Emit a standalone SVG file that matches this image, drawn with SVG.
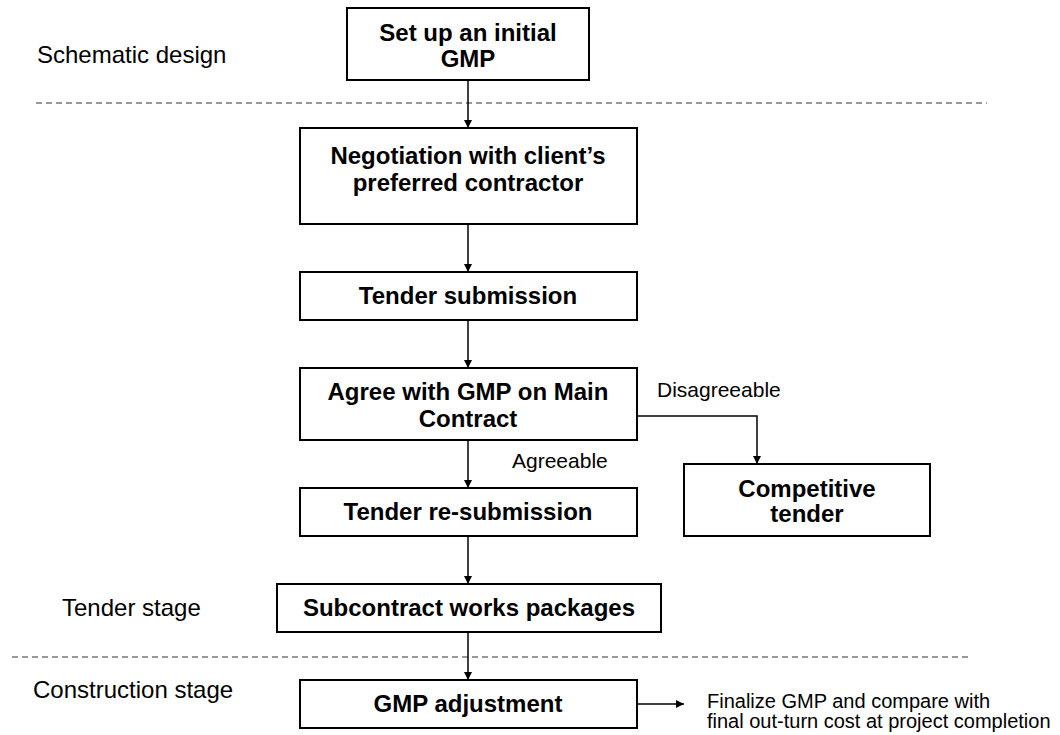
<svg xmlns="http://www.w3.org/2000/svg" width="1060" height="735" viewBox="0 0 1060 735">
  <style>
    .box { fill: #fff; stroke: #000; stroke-width: 2; }
    .lbl { font-family: "Liberation Sans", Arial, sans-serif; font-size: 24px; font-weight: bold; fill: #000; text-anchor: middle; }
    .stage { font-family: "Liberation Sans", Arial, sans-serif; font-size: 24px; fill: #000; }
    .note { font-family: "Liberation Sans", Arial, sans-serif; font-size: 21px; fill: #000; }
    .fin { font-family: "Liberation Sans", Arial, sans-serif; font-size: 20px; fill: #000; }
    .divider { stroke: #333; stroke-width: 1; stroke-dasharray: 6 4; fill: none; }
    .conn { stroke: #000; stroke-width: 1.5; fill: none; marker-end: url(#arrow); }
  </style>
  <defs>
    <marker id="arrow" viewBox="0 0 10 10" refX="10" refY="5" markerWidth="8" markerHeight="8" markerUnits="userSpaceOnUse" orient="auto">
      <path d="M0,0 L10,5 L0,10 z" fill="#000"/>
    </marker>
  </defs>

  <rect width="1060" height="735" fill="#fff"/>

  <!-- stage labels and dividers -->
  <g id="stages">
    <text class="stage" x="37" y="63">Schematic design</text>
    <line class="divider" x1="36" y1="103" x2="987" y2="103"/>
    <text class="stage" x="62" y="616">Tender stage</text>
    <line class="divider" x1="12" y1="657" x2="969" y2="657"/>
    <text class="stage" x="33" y="698">Construction stage</text>
  </g>

  <!-- connectors -->
  <g id="connectors">
    <path class="conn" d="M468,80 V128"/>
    <path class="conn" d="M468,224 V272"/>
    <path class="conn" d="M468,320 V368"/>
    <path class="conn" d="M468,440 V488"/>
    <path class="conn" d="M468,536 V584"/>
    <path class="conn" d="M468,632 V680"/>
    <path class="conn" d="M637,416 H757 V464"/>
    <path class="conn" d="M637,704 H684"/>
    <text class="note" x="512" y="468">Agreeable</text>
    <text class="note" x="657" y="397">Disagreeable</text>
  </g>

  <g id="n-initial">
    <rect class="box" x="347" y="8" width="242" height="72"/>
    <text class="lbl" x="468" y="41">Set up an initial</text>
    <text class="lbl" x="468" y="67">GMP</text>
  </g>

  <g id="n-negotiation">
    <rect class="box" x="300" y="128" width="337" height="96"/>
    <text class="lbl" x="468" y="164">Negotiation with client’s</text>
    <text class="lbl" x="468" y="191">preferred contractor</text>
  </g>

  <g id="n-tender">
    <rect class="box" x="300" y="272" width="337" height="48"/>
    <text class="lbl" x="468" y="304">Tender submission</text>
  </g>

  <g id="n-agree">
    <rect class="box" x="300" y="368" width="337" height="72"/>
    <text class="lbl" x="468" y="400">Agree with GMP on Main</text>
    <text class="lbl" x="468" y="427">Contract</text>
  </g>

  <g id="n-resubmit">
    <rect class="box" x="300" y="488" width="337" height="48"/>
    <text class="lbl" x="468" y="520">Tender re-submission</text>
  </g>

  <g id="n-competitive">
    <rect class="box" x="684" y="464" width="246" height="72"/>
    <text class="lbl" x="807" y="497">Competitive</text>
    <text class="lbl" x="807" y="522">tender</text>
  </g>

  <g id="n-subcontract">
    <rect class="box" x="277" y="584" width="384" height="48"/>
    <text class="lbl" x="469" y="616">Subcontract works packages</text>
  </g>

  <g id="n-adjust">
    <rect class="box" x="300" y="680" width="337" height="48"/>
    <text class="lbl" x="468" y="712">GMP adjustment</text>
  </g>

  <g id="n-final">
    <text class="fin" x="707" y="708">Finalize GMP and compare with</text>
    <text class="fin" x="707" y="728">final out-turn cost at project completion</text>
  </g>
</svg>
